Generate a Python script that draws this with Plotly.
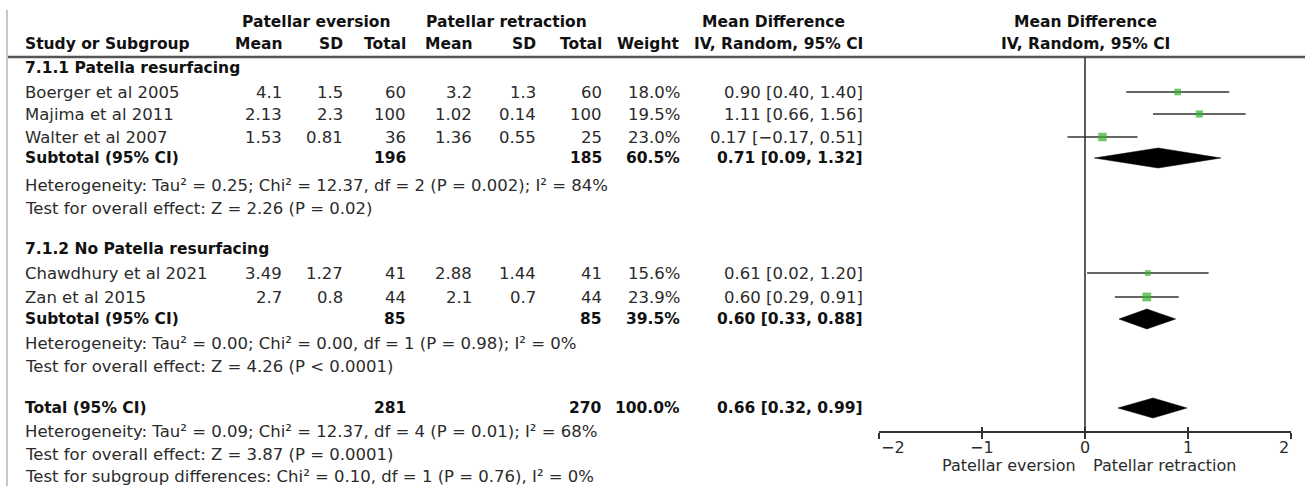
import plotly.graph_objects as go

# ---------------- data ----------------
group1_name = "7.1.1 Patella resurfacing"
group2_name = "7.1.2 No Patella resurfacing"

studies = ["Boerger et al 2005", "Majima et al 2011", "Walter et al 2007",
           "Chawdhury et al 2021", "Zan et al 2015"]
ev_mean = [4.1, 2.13, 1.53, 3.49, 2.7]
ev_sd = [1.5, 2.3, 0.81, 1.27, 0.8]
ev_n = [60, 100, 36, 41, 44]
re_mean = [3.2, 1.02, 1.36, 2.88, 2.1]
re_sd = [1.3, 0.14, 0.55, 1.44, 0.7]
re_n = [60, 100, 25, 41, 44]
weight = [18.0, 19.5, 23.0, 15.6, 23.9]
md = [0.90, 1.11, 0.17, 0.61, 0.60]
md_lo = [0.40, 0.66, -0.17, 0.02, 0.29]
md_hi = [1.40, 1.56, 0.51, 1.20, 0.91]

pooled_labels = ["Subtotal (95% CI)", "Subtotal (95% CI)", "Total (95% CI)"]
pooled_ev_n = [196, 85, 281]
pooled_re_n = [185, 85, 270]
pooled_weight = [60.5, 39.5, 100.0]
pooled_md = [0.71, 0.60, 0.66]
pooled_lo = [0.09, 0.33, 0.32]
pooled_hi = [1.32, 0.88, 0.99]

het_text = [
    "Heterogeneity: Tau² = 0.25; Chi² = 12.37, df = 2 (P = 0.002); I² = 84%",
    "Heterogeneity: Tau² = 0.00; Chi² = 0.00, df = 1 (P = 0.98); I² = 0%",
    "Heterogeneity: Tau² = 0.09; Chi² = 12.37, df = 4 (P = 0.01); I² = 68%",
]
effect_text = [
    "Test for overall effect: Z = 2.26 (P = 0.02)",
    "Test for overall effect: Z = 4.26 (P < 0.0001)",
    "Test for overall effect: Z = 3.87 (P = 0.0001)",
]
subgroup_text = "Test for subgroup differences: Chi² = 0.10, df = 1 (P = 0.76), I² = 0%"

tick_vals = [-2, -1, 0, 1, 2]
tick_text = ["−2", "−1", "0", "1", "2"]
favours_left = "Patellar eversion"
favours_right = "Patellar retraction"

# ---------------- layout constants (pixels) ----------------
W, H = 1307, 486
FONT = "DejaVu Sans"
FS = 16.5      # regular text
FSB = 15.5     # bold text
FSA = 16       # axis text
TXT = "#2b2b2b"
BOLD = "#111111"

study_y = [92, 114, 137, 273, 297]
pooled_y = [158, 319, 408]
group_y = [68, 249]
het_y = [185, 343, 431]
effect_y = [208, 366, 454]
subgroup_y = 476
hdr1_y, hdr2_y, rule_y = 22, 44, 57
axis_y = 432
ticklab_y = 447
fav_y = 465

name_x = 23
col_right = [284, 345, 408, 474, 538, 604, 682, 865]
forest_left, forest_right = 879, 1291

fig = go.Figure()
ann = []


def txt(xp, yp, s, anchor="left", bold=False, size=None):
    ann.append(dict(
        x=xp / W, xref="paper", y=yp, yref="y", text=("<b>%s</b>" % s) if bold else s,
        xanchor=anchor, yanchor="middle", showarrow=False,
        font=dict(family=FONT, size=size or (FSB if bold else FS),
                  color=BOLD if bold else TXT),
    ))


def fmt(v):
    return ("%.2f" % v).replace("-", "−")


def ci(e, lo, hi):
    return "%s [%s, %s]" % (fmt(e), fmt(lo), fmt(hi))


# headers
txt(316, hdr1_y, "Patellar eversion", "center", True)
txt(506, hdr1_y, "Patellar retraction", "center", True)
txt(773, hdr1_y, "Mean Difference", "center", True)
txt(1085, hdr1_y, "Mean Difference", "center", True)
txt(name_x, hdr2_y, "Study or Subgroup", "left", True)
for xr, h in zip(col_right, ["Mean", "SD", "Total", "Mean", "SD", "Total", "Weight",
                             "IV, Random, 95% CI"]):
    txt(xr, hdr2_y, h, "right", True)
txt(1085, hdr2_y, "IV, Random, 95% CI", "center", True)

# group titles
txt(name_x, group_y[0], group1_name, "left", True)
txt(name_x, group_y[1], group2_name, "left", True)

# study rows
for i, s in enumerate(studies):
    y = study_y[i]
    txt(name_x, y, s)
    vals = [str(ev_mean[i]), str(ev_sd[i]), str(ev_n[i]), str(re_mean[i]), str(re_sd[i]),
            str(re_n[i]), "%.1f%%" % weight[i], ci(md[i], md_lo[i], md_hi[i])]
    for xr, v in zip(col_right, vals):
        txt(xr, y, v, "right")

# pooled rows
for j in range(3):
    y = pooled_y[j]
    txt(name_x, y, pooled_labels[j], "left", True)
    txt(col_right[2], y, str(pooled_ev_n[j]), "right", True)
    txt(col_right[5], y, str(pooled_re_n[j]), "right", True)
    txt(col_right[6], y, "%.1f%%" % pooled_weight[j], "right", True)
    txt(col_right[7], y, ci(pooled_md[j], pooled_lo[j], pooled_hi[j]), "right", True)
    txt(name_x, het_y[j], het_text[j])
    txt(name_x, effect_y[j], effect_text[j])
txt(name_x, subgroup_y, subgroup_text)

# favours labels
txt(1078, fav_y, favours_left, "right", size=FSA)
txt(1091, fav_y, favours_right, "left", size=FSA)

# tick labels placed through the x scale
for k, (tv, tt) in enumerate(zip(tick_vals, tick_text)):
    anchor = "left" if k == 0 else ("right" if k == len(tick_vals) - 1 else "center")
    ann.append(dict(x=tv, xref="x", y=ticklab_y, yref="y", text=tt, xanchor=anchor,
                    yanchor="middle", showarrow=False,
                    font=dict(family=FONT, size=FSA, color=TXT)))

# zero line
fig.add_trace(go.Scatter(x=[0, 0], y=[rule_y, axis_y], mode="lines",
                         line=dict(color="#333333", width=1.6), hoverinfo="skip",
                         showlegend=False))

# study CIs and squares
for i in range(len(studies)):
    fig.add_trace(go.Scatter(x=[md_lo[i], md_hi[i]], y=[study_y[i]] * 2, mode="lines",
                             line=dict(color="#333333", width=1.6), showlegend=False,
                             hoverinfo="skip"))
fig.add_trace(go.Scatter(x=md, y=study_y, mode="markers",
                         marker=dict(symbol="square", color="#36b02c",
                                     size=[w * 0.37 for w in weight], line=dict(width=0)),
                         showlegend=False, hoverinfo="skip"))

# diamonds
half_h = 10
for j in range(3):
    y = pooled_y[j]
    fig.add_trace(go.Scatter(
        x=[pooled_lo[j], pooled_md[j], pooled_hi[j], pooled_md[j], pooled_lo[j]],
        y=[y, y - half_h, y, y + half_h, y], mode="lines", fill="toself",
        fillcolor="black", line=dict(color="black", width=0.5),
        showlegend=False, hoverinfo="skip"))

# dummy trace for the inner-tick axis
fig.add_trace(go.Scatter(x=[0], y=[-100], xaxis="x2", yaxis="y", mode="markers",
                         marker=dict(opacity=0), showlegend=False, hoverinfo="skip"))

shapes = [
    dict(type="line", xref="paper", yref="y", x0=7 / W, x1=1305 / W, y0=rule_y, y1=rule_y,
         line=dict(color="#555555", width=2.5)),
    dict(type="line", xref="paper", yref="y", x0=7 / W, x1=7 / W, y0=10, y1=H,
         line=dict(color="#c8c8c8", width=2)),
]

pos = 1 - axis_y / H
dom = [forest_left / W, forest_right / W]
fig.update_layout(
    width=W, height=H, autosize=False,
    margin=dict(l=0, r=0, t=0, b=0, pad=0),
    paper_bgcolor="white", plot_bgcolor="white",
    annotations=ann, shapes=shapes,
    xaxis=dict(domain=dom, range=[-2, 2], anchor="free", position=pos,
               showline=True, linecolor="#333333", linewidth=1.6,
               ticks="outside", ticklen=6, tickwidth=1.6, tickcolor="#333333",
               tickvals=tick_vals, showticklabels=False, showgrid=False, zeroline=False,
               fixedrange=True),
    xaxis2=dict(domain=dom, range=[-2, 2], anchor="free", position=pos, overlaying="x",
                showline=False, ticks="inside", ticklen=5, tickwidth=1.6,
                tickcolor="#333333", tickvals=tick_vals, showticklabels=False,
                showgrid=False, zeroline=False, fixedrange=True),
    yaxis=dict(domain=[0, 1], range=[H, 0], visible=False, fixedrange=True),
    showlegend=False,
)

fig.write_html("out.html")
